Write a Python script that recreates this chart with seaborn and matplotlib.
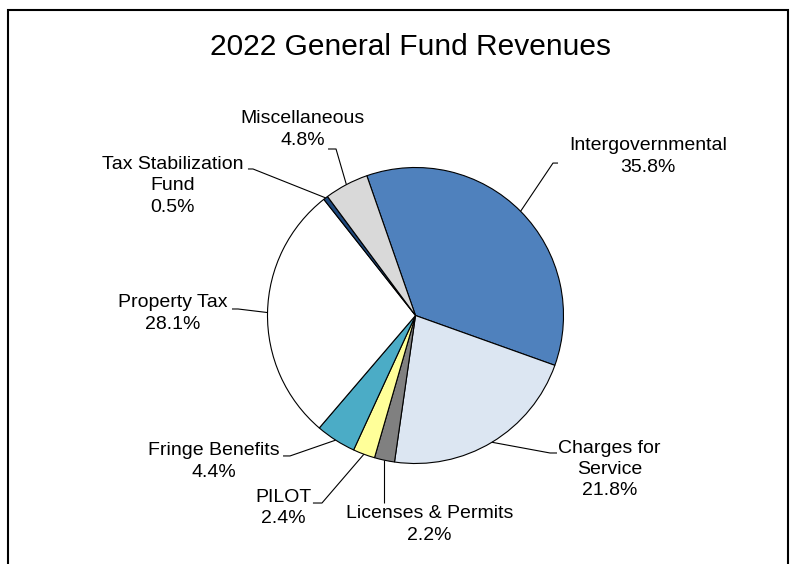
import numpy as np
import matplotlib
matplotlib.use("Agg")
import matplotlib.pyplot as plt
from matplotlib.patches import Rectangle
import seaborn as sns

# Revenue sources, in clockwise order starting from Intergovernmental
categories = ["Intergovernmental", "Charges for\nService", "Licenses & Permits",
              "PILOT", "Fringe Benefits", "Property Tax",
              "Tax Stabilization\nFund", "Miscellaneous"]
shares = [35.8, 21.8, 2.2, 2.4, 4.4, 28.1, 0.5, 4.8]
colors = ["#4F81BD", "#DCE6F2", "#808080", "#FFFF99",
          "#4BACC6", "#FFFFFF", "#1F497D", "#D9D9D9"]

# Label layout (data units, pie radius = 1): text centre, elbow, tick end
label_pos = [(1.571, 1.074), (1.311, -1.041), (0.095, -1.412), (-0.892, -1.301),
             (-1.365, -0.986), (-1.643, 0.0135), (-1.642, 0.875), (-0.764, 1.257)]
elbows = [(0.929, 1.030), (0.909, -0.929), (None, -1.267), (-0.632, -1.267),
          (-0.848, -0.949), (-1.199, 0.044), (-1.098, 0.990), (-0.537, 1.125)]
tick_ends = [(0.963, 1.030), (0.956, -0.929), None, (-0.693, -1.267),
             (-0.895, -0.949), (-1.240, 0.044), (-1.132, 0.990), (-0.591, 1.125)]

sns.set_theme(style="white")
plt.rcParams["font.family"] = ["Liberation Sans", "DejaVu Sans"]

W, H, DPI = 791, 564, 100
fig = plt.figure(figsize=(W / DPI, H / DPI), dpi=DPI)
ax = fig.add_axes([0, 0, 1, 1])

cx, cy, R = 415.5, 315.5, 148.0
start = 109.2
wedges, _ = ax.pie(shares, colors=colors, startangle=start, counterclock=False,
                   radius=1.0, center=(0, 0),
                   wedgeprops=dict(edgecolor="black", linewidth=0.8))

ax.set_xlim((0 - cx) / R, (W - cx) / R)
ax.set_ylim((cy - H) / R, (cy - 0) / R)
ax.set_aspect("auto")
ax.axis("off")

# Leader lines and labels
total = sum(shares)
cum = 0.0
for name, val, tp, el, te in zip(categories, shares, label_pos, elbows, tick_ends):
    mid = np.deg2rad(start - (cum + val / 2) / total * 360.0)
    cum += val
    ax_, ay_ = np.cos(mid), np.sin(mid)
    ex = ax_ if el[0] is None else el[0]
    xs, ys = [ax_, ex], [ay_, el[1]]
    if te is not None:
        xs.append(te[0])
        ys.append(te[1])
    ax.plot(xs, ys, color="black", linewidth=0.8, solid_capstyle="butt")
    ax.text(tp[0], tp[1], f"{name}\n{val:.1f}%", ha="center", va="center",
            multialignment="center", fontsize=14, linespacing=1.33,
            color="black")

ax.text((411 - cx) / R, (cy - 47) / R, "2022 General Fund Revenues",
        ha="center", va="center", fontsize=21.5, color="black")

# Outer border of the chart area
fig.patches.append(Rectangle((8 / W, -0.05), (788 - 8) / W, 1.05 - 10 / H,
                             transform=fig.transFigure, fill=False,
                             edgecolor="black", linewidth=1.5))

fig.savefig("out.png", dpi=DPI)
